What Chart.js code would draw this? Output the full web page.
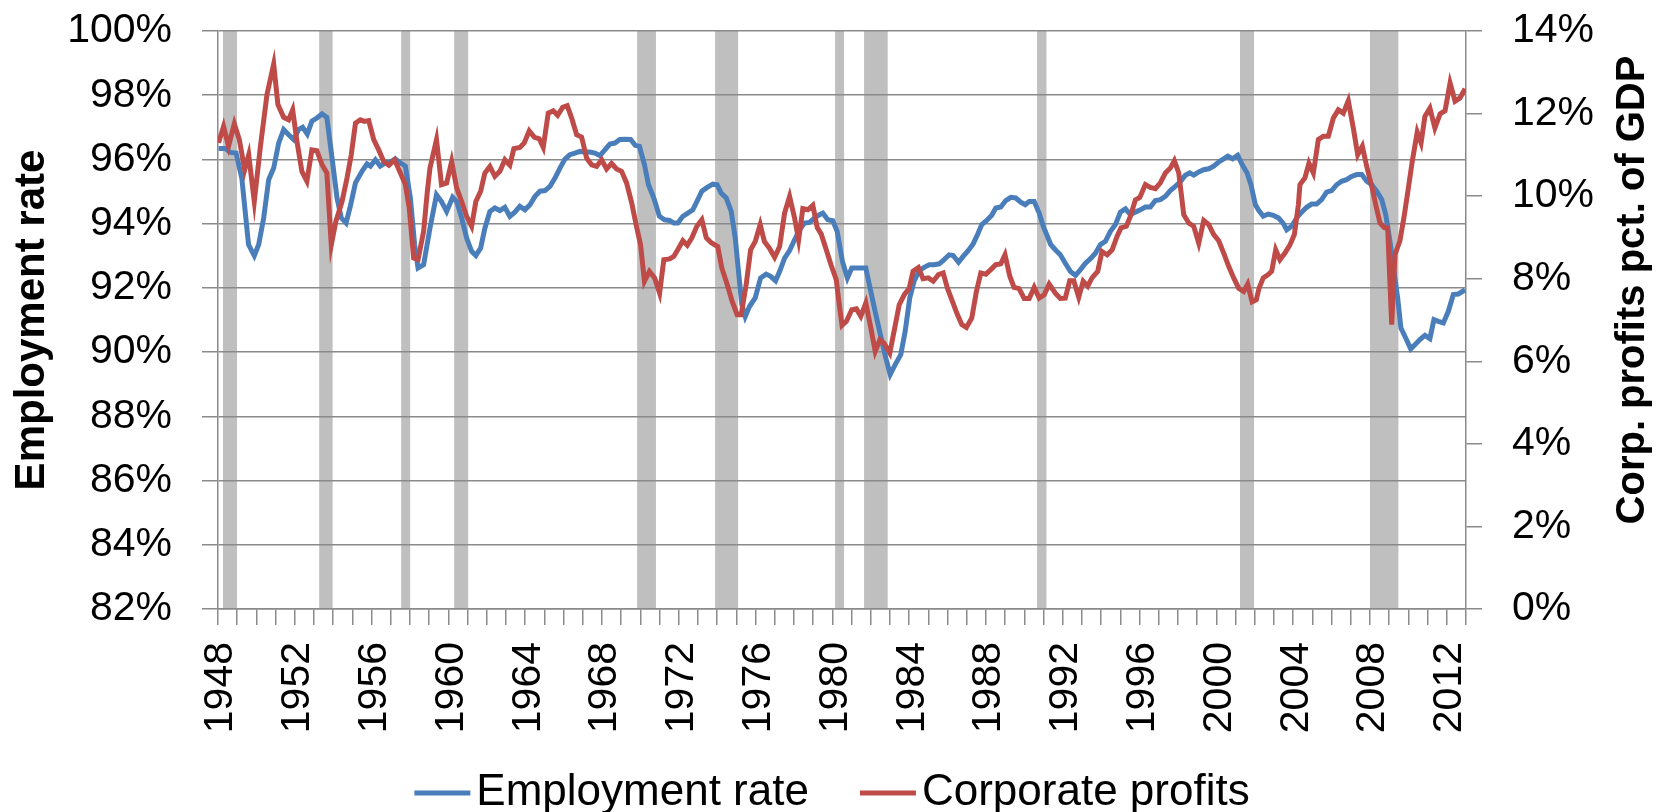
<!DOCTYPE html>
<html lang="en">
<head>
    <meta charset="UTF-8">
    <title>Employment rate and corporate profits</title>
    <script src="https://cdn.jsdelivr.net/npm/chart.js"></script>
    <style>
        body {
            margin: 0;
            background-color: #ffffff;
        }
        #wrap {
            width: 1659px;
            height: 812px;
            position: relative;
        }
    </style>
</head>
<body>
    <div id="wrap"><canvas id="graph"></canvas></div>

    <script>
        // Employment rate (left axis, %)
        const empYears = [
            1948.03, 1948.38, 1948.64, 1948.94, 1949.24, 1949.59, 1949.89, 1950.12, 1950.38, 1950.64,
            1950.90, 1951.16, 1951.42, 1951.68, 1951.94, 1952.20, 1952.41, 1952.65, 1952.89, 1953.15,
            1953.42, 1953.67, 1953.94, 1954.20, 1954.42, 1954.67, 1954.89, 1955.16, 1955.50, 1955.76,
            1955.94, 1956.20, 1956.45, 1956.72, 1956.97, 1957.23, 1957.50, 1957.76, 1958.02, 1958.24,
            1958.42, 1958.71, 1959.04, 1959.38, 1959.64, 1959.91, 1960.22, 1960.43, 1960.69, 1960.95,
            1961.21, 1961.43, 1961.68, 1961.90, 1962.16, 1962.42, 1962.68, 1962.94, 1963.20, 1963.46,
            1963.72, 1963.99, 1964.25, 1964.51, 1964.77, 1965.03, 1965.29, 1965.55, 1965.81, 1966.07,
            1966.33, 1966.59, 1966.85, 1967.11, 1967.37, 1967.63, 1967.89, 1968.15, 1968.41, 1968.67,
            1968.93, 1969.19, 1969.49, 1969.73, 1969.95, 1970.21, 1970.42, 1970.70, 1970.99, 1971.26,
            1971.52, 1971.74, 1971.95, 1972.21, 1972.47, 1972.73, 1972.99, 1973.20, 1973.48, 1973.77,
            1974.00, 1974.21, 1974.47, 1974.73, 1974.94, 1975.11, 1975.28, 1975.46, 1975.68, 1975.98,
            1976.26, 1976.55, 1976.78, 1977.04, 1977.25, 1977.51, 1977.77, 1978.03, 1978.29, 1978.55,
            1978.81, 1979.07, 1979.33, 1979.50, 1979.76, 1980.02, 1980.25, 1980.52, 1980.78, 1981.01,
            1981.30, 1981.74, 1982.00, 1982.26, 1982.52, 1982.78, 1983.01, 1983.27, 1983.56, 1983.79,
            1984.03, 1984.26, 1984.52, 1984.78, 1985.04, 1985.30, 1985.56, 1985.82, 1986.08, 1986.29,
            1986.57, 1986.81, 1987.07, 1987.33, 1987.56, 1987.78, 1988.02, 1988.30, 1988.51, 1988.77,
            1989.03, 1989.29, 1989.55, 1989.81, 1990.04, 1990.25, 1990.51, 1990.77, 1990.98, 1991.20,
            1991.37, 1991.61, 1991.87, 1992.13, 1992.40, 1992.66, 1992.92, 1993.18, 1993.44, 1993.70,
            1993.96, 1994.22, 1994.48, 1994.74, 1995.00, 1995.26, 1995.52, 1995.78, 1996.04, 1996.30,
            1996.56, 1996.82, 1997.08, 1997.34, 1997.60, 1997.86, 1998.12, 1998.38, 1998.61, 1998.82,
            1999.08, 1999.34, 1999.60, 1999.86, 2000.12, 2000.38, 2000.59, 2000.85, 2001.11, 2001.34,
            2001.60, 2001.80, 2002.03, 2002.22, 2002.44, 2002.70, 2002.96, 2003.23, 2003.49, 2003.66,
            2003.92, 2004.18, 2004.44, 2004.70, 2004.96, 2005.22, 2005.48, 2005.74, 2006.00, 2006.26,
            2006.52, 2006.78, 2007.04, 2007.31, 2007.57, 2007.83, 2008.09, 2008.35, 2008.61, 2008.82,
            2009.04, 2009.27, 2009.44, 2009.61, 2009.86, 2010.12, 2010.34, 2010.60, 2010.86, 2011.12,
            2011.33, 2011.56, 2011.82, 2012.08, 2012.34, 2012.60, 2012.95
        ];
        const empRate = [
            96.34, 96.34, 96.22, 96.20, 95.42, 93.35, 93.00, 93.35, 94.18, 95.37,
            95.73, 96.51, 96.93, 96.77, 96.62, 96.93, 97.00, 96.79, 97.19, 97.29,
            97.42, 97.31, 96.04, 94.80, 94.18, 94.02, 94.54, 95.27, 95.63, 95.86,
            95.79, 95.99, 95.79, 95.89, 95.92, 96.02, 95.89, 95.79, 94.80, 93.35,
            92.62, 92.72, 93.86, 94.90, 94.69, 94.38, 94.82, 94.69, 94.18, 93.55,
            93.14, 93.01, 93.24, 93.86, 94.38, 94.49, 94.41, 94.51, 94.23, 94.36,
            94.54, 94.43, 94.59, 94.85, 95.01, 95.03, 95.16, 95.42, 95.73, 96.01,
            96.15, 96.20, 96.25, 96.23, 96.23, 96.20, 96.12, 96.30, 96.48, 96.51,
            96.62, 96.63, 96.62, 96.44, 96.41, 95.84, 95.21, 94.80, 94.23, 94.12,
            94.10, 94.02, 94.02, 94.23, 94.33, 94.43, 94.75, 95.01, 95.13, 95.23,
            95.21, 94.95, 94.80, 94.38, 93.55, 92.51, 91.48, 91.11, 91.42, 91.69,
            92.31, 92.43, 92.36, 92.22, 92.51, 92.93, 93.16, 93.50, 93.81, 94.02,
            94.04, 94.18, 94.28, 94.33, 94.12, 94.09, 93.76, 92.83, 92.31, 92.62,
            92.62, 92.62, 91.89, 91.17, 90.49, 89.82, 89.30, 89.61, 89.92, 90.65,
            91.69, 92.22, 92.54, 92.64, 92.72, 92.72, 92.75, 92.88, 93.03, 93.01,
            92.80, 92.98, 93.16, 93.37, 93.66, 93.97, 94.09, 94.26, 94.49, 94.52,
            94.72, 94.82, 94.80, 94.67, 94.59, 94.69, 94.69, 94.33, 93.92, 93.60,
            93.35, 93.19, 93.03, 92.77, 92.51, 92.39, 92.57, 92.77, 92.91, 93.08,
            93.35, 93.45, 93.76, 93.97, 94.36, 94.46, 94.28, 94.36, 94.43, 94.52,
            94.52, 94.72, 94.75, 94.85, 95.03, 95.16, 95.30, 95.51, 95.58, 95.51,
            95.61, 95.68, 95.71, 95.79, 95.92, 96.02, 96.10, 96.02, 96.13, 95.84,
            95.58, 95.21, 94.59, 94.40, 94.23, 94.30, 94.26, 94.18, 94.00, 93.81,
            93.92, 94.18, 94.36, 94.51, 94.61, 94.61, 94.75, 94.98, 95.03, 95.21,
            95.32, 95.37, 95.47, 95.53, 95.53, 95.32, 95.21, 95.01, 94.75, 94.28,
            93.45, 92.41, 91.69, 90.75, 90.44, 90.10, 90.23, 90.39, 90.52, 90.42,
            91.01, 90.96, 90.91, 91.27, 91.79, 91.81, 91.94
        ];

        // Corporate profits, percent of GDP (right axis)
        const profitYears = [
            1948.03, 1948.29, 1948.55, 1948.85, 1949.11, 1949.39, 1949.60, 1949.89, 1950.20, 1950.55,
            1950.90, 1951.12, 1951.42, 1951.68, 1951.89, 1952.11, 1952.37, 1952.63, 1952.89, 1953.15,
            1953.42, 1953.67, 1953.90, 1954.14, 1954.46, 1954.72, 1954.94, 1955.16, 1955.41, 1955.62,
            1955.85, 1956.11, 1956.37, 1956.63, 1956.90, 1957.20, 1957.50, 1957.76, 1957.96, 1958.19,
            1958.42, 1958.71, 1958.90, 1959.04, 1959.38, 1959.64, 1959.91, 1960.17, 1960.43, 1960.69,
            1960.95, 1961.21, 1961.43, 1961.68, 1961.90, 1962.16, 1962.42, 1962.68, 1962.94, 1963.20,
            1963.41, 1963.72, 1963.95, 1964.21, 1964.47, 1964.73, 1964.94, 1965.20, 1965.46, 1965.69,
            1965.95, 1966.19, 1966.42, 1966.68, 1966.94, 1967.20, 1967.46, 1967.72, 1967.98, 1968.24,
            1968.50, 1968.76, 1969.02, 1969.28, 1969.54, 1969.78, 1970.01, 1970.21, 1970.47, 1970.74,
            1971.00, 1971.22, 1971.52, 1971.74, 1971.99, 1972.21, 1972.44, 1972.68, 1972.94, 1973.20,
            1973.43, 1973.69, 1974.03, 1974.24, 1974.52, 1974.78, 1975.04, 1975.25, 1975.51, 1975.74,
            1975.98, 1976.24, 1976.46, 1976.72, 1976.99, 1977.25, 1977.51, 1977.77, 1978.03, 1978.24,
            1978.46, 1978.72, 1978.98, 1979.21, 1979.42, 1979.68, 1979.94, 1980.20, 1980.37, 1980.50,
            1980.73, 1981.01, 1981.25, 1981.48, 1981.74, 1982.00, 1982.23, 1982.47, 1982.69, 1982.99,
            1983.21, 1983.48, 1983.74, 1984.00, 1984.20, 1984.48, 1984.72, 1985.00, 1985.25, 1985.52,
            1985.77, 1985.99, 1986.25, 1986.51, 1986.74, 1986.98, 1987.26, 1987.50, 1987.73, 1987.99,
            1988.25, 1988.51, 1988.77, 1988.99, 1989.24, 1989.46, 1989.72, 1989.99, 1990.25, 1990.51,
            1990.77, 1991.03, 1991.29, 1991.61, 1991.87, 1992.13, 1992.36, 1992.57, 1992.83, 1993.06,
            1993.30, 1993.52, 1993.82, 1994.04, 1994.31, 1994.57, 1994.83, 1995.03, 1995.31, 1995.52,
            1995.78, 1996.01, 1996.30, 1996.56, 1996.82, 1997.08, 1997.34, 1997.60, 1997.81, 1998.04,
            1998.30, 1998.56, 1998.82, 1999.08, 1999.34, 1999.60, 1999.86, 2000.12, 2000.38, 2000.64,
            2000.90, 2001.16, 2001.42, 2001.63, 2001.86, 2002.08, 2002.22, 2002.44, 2002.70, 2002.88,
            2003.09, 2003.31, 2003.57, 2003.83, 2004.06, 2004.27, 2004.35, 2004.61, 2004.82, 2005.05,
            2005.31, 2005.57, 2005.83, 2006.09, 2006.35, 2006.61, 2006.87, 2007.13, 2007.36, 2007.60,
            2007.83, 2008.09, 2008.30, 2008.52, 2008.75, 2008.92, 2009.13, 2009.30, 2009.56, 2009.79,
            2010.00, 2010.20, 2010.46, 2010.66, 2010.86, 2011.12, 2011.38, 2011.65, 2011.91, 2012.17,
            2012.43, 2012.69, 2012.95
        ];
        const profitShare = [
            11.29, 11.69, 11.21, 11.75, 11.37, 10.64, 11.00, 9.87, 11.17, 12.46,
            13.20, 12.22, 11.91, 11.85, 12.09, 11.33, 10.60, 10.36, 11.12, 11.10,
            10.76, 10.56, 8.82, 9.39, 9.87, 10.44, 11.00, 11.77, 11.85, 11.81,
            11.83, 11.37, 11.12, 10.84, 10.75, 10.88, 10.56, 10.28, 9.71, 8.50,
            8.46, 9.15, 10.10, 10.68, 11.37, 10.28, 10.32, 10.84, 10.20, 9.87,
            9.51, 9.27, 9.87, 10.12, 10.56, 10.72, 10.48, 10.60, 10.88, 10.75,
            11.15, 11.18, 11.29, 11.58, 11.43, 11.39, 11.18, 12.01, 12.07, 11.96,
            12.15, 12.19, 11.89, 11.49, 11.43, 10.92, 10.76, 10.72, 10.88, 10.66,
            10.79, 10.66, 10.60, 10.32, 9.85, 9.30, 8.82, 7.94, 8.18, 8.02,
            7.65, 8.46, 8.48, 8.54, 8.74, 8.92, 8.81, 8.99, 9.27, 9.43,
            8.99, 8.87, 8.78, 8.26, 7.86, 7.45, 7.13, 7.13, 7.86, 8.70,
            8.90, 9.31, 8.90, 8.74, 8.52, 8.78, 9.59, 9.99, 9.47, 8.94,
            9.70, 9.67, 9.78, 9.24, 9.08, 8.70, 8.32, 7.98, 7.33, 6.87,
            6.97, 7.25, 7.27, 7.09, 7.41, 6.81, 6.24, 6.52, 6.44, 6.20,
            6.72, 7.37, 7.61, 7.77, 8.18, 8.27, 8.00, 8.02, 7.94, 8.10,
            8.14, 7.77, 7.45, 7.13, 6.89, 6.82, 7.05, 7.69, 8.14, 8.11,
            8.22, 8.34, 8.36, 8.58, 8.06, 7.79, 7.76, 7.52, 7.52, 7.79,
            7.53, 7.61, 7.87, 7.65, 7.52, 7.53, 7.95, 7.95, 7.55, 7.94,
            7.82, 8.02, 8.18, 8.66, 8.58, 8.70, 9.03, 9.23, 9.27, 9.51,
            9.91, 9.97, 10.28, 10.21, 10.18, 10.32, 10.56, 10.68, 10.86, 10.56,
            9.55, 9.35, 9.27, 8.86, 9.41, 9.31, 9.07, 8.92, 8.62, 8.30,
            8.02, 7.77, 7.69, 7.87, 7.44, 7.49, 7.77, 8.02, 8.10, 8.18,
            8.70, 8.46, 8.62, 8.82, 9.07, 9.79, 10.28, 10.44, 10.80, 10.56,
            11.37, 11.45, 11.45, 11.89, 12.09, 12.01, 12.31, 11.65, 11.00, 11.21,
            10.72, 10.24, 9.79, 9.35, 9.24, 9.23, 6.89, 8.58, 8.92, 9.55,
            10.20, 10.84, 11.55, 11.29, 11.93, 12.13, 11.65, 11.99, 12.07, 12.74,
            12.30, 12.38, 12.60
        ];

        // Recession shading (start / end in years)
        const recessionStart = [1948.26, 1953.27, 1957.54, 1960.30, 1969.83, 1973.89, 1980.14, 1981.65, 1990.66, 2001.23, 2008.00];
        const recessionEnd   = [1948.99, 1953.97, 1958.01, 1961.03, 1970.81, 1975.09, 1980.61, 1982.88, 1991.15, 2001.96, 2009.48];

        const yearLabels = ['1948', '1952', '1956', '1960', '1964', '1968', '1972', '1976', '1980',
                            '1984', '1988', '1992', '1996', '2000', '2004', '2008', '2012'];

        const FONT = "'Liberation Sans', Arial, sans-serif";
        const GRID = '#8a8a8a';

        const toPoints = (xs, ys) => xs.map((x, i) => ({ x: x, y: ys[i] }));

        // recession bars, legend and the right-hand title
        const overlays = {
            id: 'overlays',
            beforeDraw(chart) {
                const { ctx, chartArea, scales } = chart;
                ctx.save();
                ctx.fillStyle = '#bfbfbf';
                recessionStart.forEach((s, i) => {
                    const x0 = scales.x.getPixelForValue(s);
                    const x1 = scales.x.getPixelForValue(recessionEnd[i]);
                    ctx.fillRect(x0, chartArea.top, x1 - x0, chartArea.bottom - chartArea.top);
                });
                ctx.restore();
            },
            afterDraw(chart) {
                const ctx = chart.ctx;
                ctx.save();

                // right axis title, reading bottom to top
                ctx.font = 'bold 40px ' + FONT;
                ctx.fillStyle = '#000';
                ctx.textAlign = 'center';
                ctx.textBaseline = 'middle';
                ctx.translate(1633, 290);
                ctx.rotate(-Math.PI / 2);
                ctx.fillText(chart.options.scales.y1.title.text, 0, 0);
                ctx.setTransform(1, 0, 0, 1, 0, 0);

                // legend
                const items = [chart.data.datasets[1], chart.data.datasets[0]];
                ctx.font = '44px ' + FONT;
                const lineLen = 56, gap = 6, between = 51;
                const widths = items.map(d => ctx.measureText(d.label).width);
                const total = widths.reduce((a, w) => a + lineLen + gap + w, 0) + between;
                let x = 832 - total / 2;
                const y = 793;
                ctx.textAlign = 'left';
                items.forEach((d, i) => {
                    ctx.strokeStyle = d.borderColor;
                    ctx.lineWidth = 5;
                    ctx.beginPath();
                    ctx.moveTo(x, y);
                    ctx.lineTo(x + lineLen, y);
                    ctx.stroke();
                    ctx.fillText(d.label, x + lineLen + gap, y);
                    x += lineLen + gap + widths[i] + between;
                });
                ctx.restore();
            }
        };

        // fixed axis box sizes so the plot area sits where the original has it
        const fitY = w => s => { s.width = w; s.paddingTop = 0; s.paddingBottom = 0; };

        const ctx = document.getElementById('graph').getContext('2d');
        new Chart(ctx, {
            type: 'line',
            data: {
                datasets: [
                    {
                        label: 'Corporate profits',
                        data: toPoints(profitYears, profitShare),
                        yAxisID: 'y1',
                        borderColor: '#be4b48',
                        borderWidth: 5,
                        pointRadius: 0,
                        tension: 0,
                        fill: false,
                    },
                    {
                        label: 'Employment rate',
                        data: toPoints(empYears, empRate),
                        yAxisID: 'y',
                        borderColor: '#4a7ebb',
                        borderWidth: 5,
                        pointRadius: 0,
                        tension: 0,
                        fill: false,
                    },
                ],
            },
            options: {
                responsive: true,
                maintainAspectRatio: false,
                animation: false,
                layout: { padding: { top: 31, right: 0, bottom: 0, left: 0 } },
                plugins: {
                    legend: { display: false },
                    tooltip: { enabled: false },
                },
                scales: {
                    x: {
                        type: 'linear',
                        min: 1948,
                        max: 2013,
                        afterFit: s => { s.height = 203; s.paddingLeft = 0; s.paddingRight = 0; },
                        grid: { drawOnChartArea: false, color: GRID, lineWidth: 1.5, tickLength: 16 },
                        border: { color: GRID, width: 1.5 },
                        ticks: {
                            stepSize: 1,
                            autoSkip: false,
                            minRotation: 90,
                            maxRotation: 90,
                            padding: 17,
                            labelOffset: 3,
                            color: '#000',
                            font: { family: FONT, size: 41 },
                            callback: v => yearLabels.includes(String(v)) ? String(v) : '',
                        },
                    },
                    y: {
                        position: 'left',
                        min: 82,
                        max: 100,
                        afterFit: fitY(218),
                        grid: { color: GRID, lineWidth: 1.5, tickLength: 16 },
                        border: { color: GRID, width: 1.5 },
                        title: {
                            display: true,
                            text: 'Employment rate',
                            color: '#000',
                            padding: { top: 7, bottom: 0 },
                            font: { family: FONT, size: 42, weight: 'bold', lineHeight: 1.2 },
                        },
                        ticks: {
                            stepSize: 2,
                            padding: 30,
                            color: '#000',
                            font: { family: FONT, size: 41 },
                            callback: v => v + '%',
                        },
                    },
                    y1: {
                        position: 'right',
                        min: 0,
                        max: 14,
                        afterFit: fitY(193),
                        grid: { drawOnChartArea: false, color: GRID, lineWidth: 1.5, tickLength: 16 },
                        border: { color: GRID, width: 1.5 },
                        title: { display: false, text: 'Corp. profits pct. of GDP' },
                        ticks: {
                            stepSize: 2,
                            padding: 30,
                            color: '#000',
                            font: { family: FONT, size: 41 },
                            callback: v => v + '%',
                        },
                    },
                },
            },
            plugins: [overlays],
        });
    </script>
</body>
</html>
